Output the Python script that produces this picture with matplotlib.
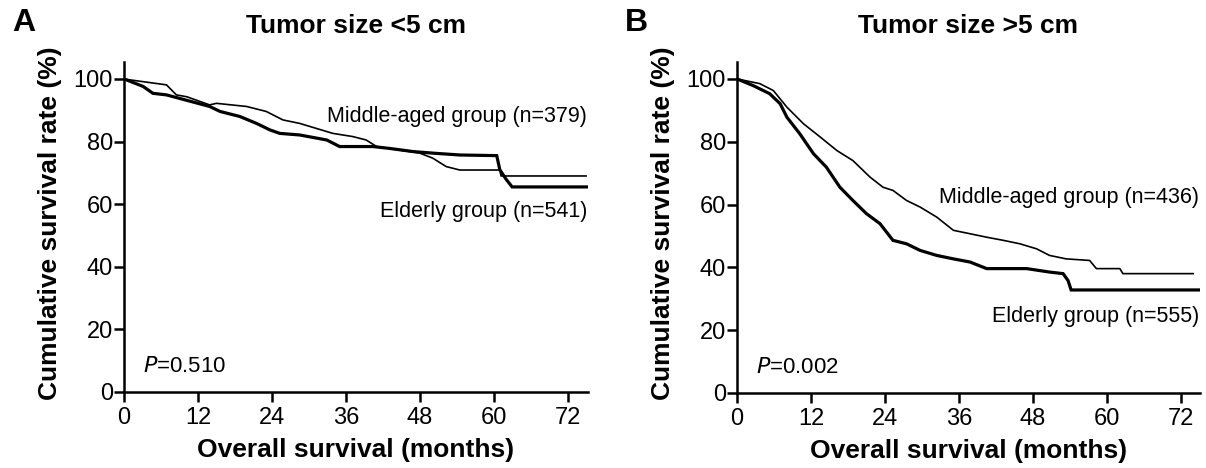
import matplotlib
matplotlib.use("Agg")
import matplotlib.pyplot as plt

plt.rcParams["font.family"] = ["Liberation Sans", "DejaVu Sans"]

# panel A: tumor size < 5 cm
a_mid_t = [0, 0.2, 6.9, 8.5, 10.2, 13.9, 15.0, 19.9, 23.1, 25.8, 28.5, 33.9, 37.1,
           39.3, 41.0, 44.7, 48.0, 50.1, 52.3, 54.5, 61.0, 61.2, 75.0]
a_mid_s = [100, 99.9, 98.1, 94.9, 94.3, 91.7, 92.2, 91.2, 89.6, 86.9, 85.8, 82.6, 81.6,
           80.5, 78.4, 77.3, 76.3, 74.7, 72.0, 70.9, 70.9, 69.0, 69.0]
a_old_t = [0, 3.1, 4.7, 6.9, 13.9, 15.6, 18.8, 21.5, 23.7, 25.3, 28.5, 32.9, 35.0,
           40.4, 43.1, 46.9, 50.1, 54.5, 60.5, 61.0, 62.0, 63.0, 75.2]
a_old_s = [100, 97.6, 95.4, 94.9, 91.2, 89.6, 88.0, 85.8, 83.7, 82.6, 82.1, 80.5, 78.4,
           78.4, 77.8, 76.8, 76.3, 75.7, 75.5, 71.0, 68.0, 65.5, 65.5]

# panel B: tumor size > 5 cm
b_mid_t = [0, 3.7, 5.9, 8.1, 10.8, 13.5, 16.2, 18.8, 21.6, 23.7, 25.3, 27.5, 29.7,
           32.4, 35.1, 37.8, 40.5, 43.2, 45.9, 48.6, 50.7, 53.4, 57.2, 58.3, 62.1,
           62.6, 74.0]
b_mid_s = [100, 98.5, 96.3, 91.0, 85.7, 81.5, 77.2, 74.0, 68.7, 65.5, 64.5, 61.3, 59.2,
           56.0, 51.8, 50.7, 49.6, 48.6, 47.5, 45.9, 43.8, 42.7, 42.2, 39.6, 39.6,
           38.0, 38.0]
b_old_t = [0, 2.6, 5.3, 7.0, 8.1, 10.2, 12.4, 14.5, 16.7, 18.8, 21.0, 23.2, 25.3,
           27.5, 29.7, 32.4, 35.1, 37.8, 40.5, 47.0, 50.7, 52.9, 53.7, 54.2, 75.0]
b_old_s = [100, 97.9, 95.3, 92.1, 87.8, 82.5, 76.2, 71.9, 65.5, 61.3, 57.1, 53.9, 48.6,
           47.5, 45.4, 43.8, 42.7, 41.7, 39.6, 39.6, 38.5, 38.0, 35.8, 32.8, 32.8]

x_ticks = [0, 12, 24, 36, 48, 60, 72]
y_ticks = [0, 20, 40, 60, 80, 100]

panels = [
    ("A", "Tumor size <5 cm", [0.1028, 0.1624, 0.3847, 0.7051], 75.3,
     a_mid_t, a_mid_s, a_old_t, a_old_s,
     "Middle-aged group (n=379)", 87.9, "Elderly group (n=541)", 57.5, "0.510"),
    ("B", "Tumor size >5 cm", [0.6111, 0.1603, 0.3839, 0.7073], 75.1,
     b_mid_t, b_mid_s, b_old_t, b_old_s,
     "Middle-aged group (n=436)", 62.2, "Elderly group (n=555)", 24.4, "0.002"),
]

fig = plt.figure(figsize=(12.06, 4.68), dpi=100)

for (letter, title, rect, xmax, mt, ms, ot, os_, mlab, my, olab, oy, pval) in panels:
    ax = fig.add_axes(rect)
    ax.plot(ot, os_, color="black", lw=2.3, solid_joinstyle="miter")
    ax.plot(mt, ms, color="black", lw=1.2)
    ax.set_xlim(0, xmax)
    ax.set_ylim(0, 105.4)
    ax.set_xticks(x_ticks)
    ax.set_yticks(y_ticks)
    for s in ("top", "right"):
        ax.spines[s].set_visible(False)
    for s in ("left", "bottom"):
        ax.spines[s].set_linewidth(1.8)
    ax.tick_params(axis="both", length=7, width=1.8, labelsize=17, direction="out")
    ax.tick_params(axis="y", pad=1)
    ax.tick_params(axis="x", pad=4)
    ax.set_xlabel("Overall survival (months)", fontsize=19, fontweight="bold")
    ax.set_ylabel("Cumulative survival rate (%)", fontsize=19, fontweight="bold")
    ax.xaxis.set_label_coords(0.5, -0.14)
    ax.yaxis.set_label_coords(-0.134, 0.512)
    ax.set_title(title, fontsize=19, fontweight="bold", pad=21)
    ax.text(xmax - 0.1, my, mlab, ha="right", va="center", fontsize=15.5)
    ax.text(xmax - 0.1, oy, olab, ha="right", va="center", fontsize=15.5)
    ax.text(3.1, 8, "$\\mathit{P}$=" + pval, ha="left", va="center", fontsize=16)
    fig.text(rect[0] - 0.093, 0.951, letter, fontsize=23, fontweight="bold",
             ha="left", va="center")

fig.savefig("out.png", dpi=100)
